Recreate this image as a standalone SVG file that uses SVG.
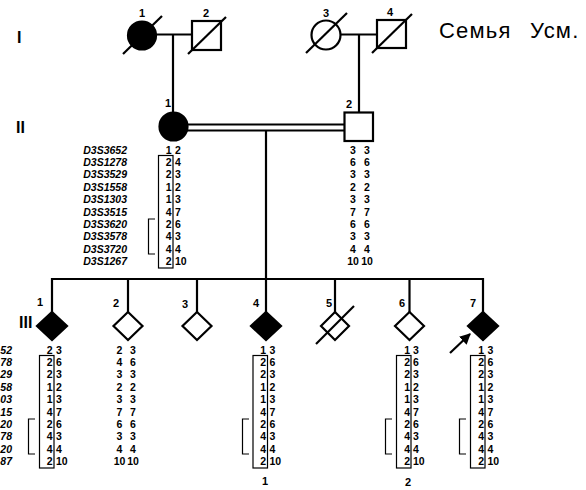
<svg xmlns="http://www.w3.org/2000/svg" width="586" height="490" viewBox="0 0 586 490">
<defs>
<style>
.ln{stroke:#000;stroke-width:2.2;fill:none}
.sym{stroke:#000;stroke-width:2.2;fill:#fff}
.aff{stroke:#000;stroke-width:2.2;fill:#000}
.box{stroke:#000;stroke-width:1.2;fill:none}
.gen{font-family:"Liberation Sans",Arial,sans-serif;font-weight:bold;font-size:16px}
.id{font-family:"Liberation Sans",Arial,sans-serif;font-weight:bold;font-size:11px}
.al{font-family:"Liberation Sans",Arial,sans-serif;font-weight:bold;font-size:10.5px}
.mk{font-family:"Liberation Sans",Arial,sans-serif;font-weight:bold;font-style:italic;font-size:10.5px}
.title{font-family:"Liberation Sans",Arial,sans-serif;font-size:22px;letter-spacing:1.2px;word-spacing:11px}
</style>
<marker id="ah" viewBox="0 0 10 10" refX="9" refY="5" markerWidth="5" markerHeight="5" orient="auto" markerUnits="strokeWidth">
<path d="M0,0 L10,5 L0,10 Z" fill="#000"/>
</marker>
</defs>
<rect width="586" height="490" fill="#fff"/>

<g id="labels">
<text class="gen" x="17" y="43">I</text>
<text class="gen" x="16" y="133">II</text>
<text class="gen" x="19" y="328">III</text>
<text class="title" x="439" y="38">Семья Усм.</text>
</g>

<g id="connectors">
<line class="ln" x1="156" y1="34.5" x2="192" y2="34.5"/>
<line class="ln" x1="173" y1="34.5" x2="173" y2="113"/>
<line class="ln" x1="341" y1="34.5" x2="377" y2="34.5"/>
<line class="ln" x1="359" y1="34.5" x2="359" y2="112"/>
<line class="ln" x1="187" y1="124.5" x2="344" y2="124.5"/>
<line class="ln" x1="187" y1="130.5" x2="344" y2="130.5"/>
<line class="ln" x1="266" y1="130.5" x2="266" y2="279"/>
<polyline class="ln" points="52,312 52,279 483,279 483,312"/>
<line class="ln" x1="128" y1="279" x2="128" y2="312"/>
<line class="ln" x1="197" y1="279" x2="197" y2="312"/>
<line class="ln" x1="266" y1="279" x2="266" y2="312"/>
<line class="ln" x1="335" y1="279" x2="335" y2="312"/>
<line class="ln" x1="409.5" y1="279" x2="409.5" y2="312"/>
<line class="ln" x1="450" y1="353" x2="470" y2="334" marker-end="url(#ah)"/>
</g>

<g id="I-1">
<circle class="aff" cx="142" cy="35.5" r="14"/>
<line class="ln" x1="123" y1="54" x2="162" y2="16"/>
<text class="id" x="142" y="17" text-anchor="middle">1</text>
</g>
<g id="I-2">
<rect class="sym" x="192" y="21" width="29" height="29"/>
<line class="ln" x1="188" y1="54" x2="226" y2="17"/>
<text class="id" x="206" y="17" text-anchor="middle">2</text>
</g>
<g id="I-3">
<circle class="sym" cx="326" cy="35" r="14.5"/>
<line class="ln" x1="306" y1="53" x2="347" y2="13"/>
<text class="id" x="326" y="17" text-anchor="middle">3</text>
</g>
<g id="I-4">
<rect class="sym" x="377" y="20" width="29" height="28"/>
<line class="ln" x1="372" y1="53" x2="412" y2="14"/>
<text class="id" x="390" y="16" text-anchor="middle">4</text>
</g>

<g id="II-1">
<circle class="aff" cx="173.5" cy="126.5" r="14"/>
<text class="id" x="168" y="107" text-anchor="middle">1</text>
<text class="mk" text-anchor="end"><tspan x="127" y="153.6">D3S3652</tspan><tspan x="127" dy="12.4">D3S1278</tspan><tspan x="127" dy="12.4">D3S3529</tspan><tspan x="127" dy="12.4">D3S1558</tspan><tspan x="127" dy="12.4">D3S1303</tspan><tspan x="127" dy="12.4">D3S3515</tspan><tspan x="127" dy="12.4">D3S3620</tspan><tspan x="127" dy="12.4">D3S3578</tspan><tspan x="127" dy="12.4">D3S3720</tspan><tspan x="127" dy="12.4">D3S1267</tspan></text>
<text class="al" text-anchor="end"><tspan x="171.5" y="153.6">1</tspan><tspan x="171.5" dy="12.4">2</tspan><tspan x="171.5" dy="12.4">2</tspan><tspan x="171.5" dy="12.4">1</tspan><tspan x="171.5" dy="12.4">1</tspan><tspan x="171.5" dy="12.4">4</tspan><tspan x="171.5" dy="12.4">2</tspan><tspan x="171.5" dy="12.4">4</tspan><tspan x="171.5" dy="12.4">4</tspan><tspan x="171.5" dy="12.4">2</tspan></text>
<text class="al"><tspan x="175" y="153.6">2</tspan><tspan x="175" dy="12.4">4</tspan><tspan x="175" dy="12.4">3</tspan><tspan x="175" dy="12.4">2</tspan><tspan x="175" dy="12.4">3</tspan><tspan x="175" dy="12.4">7</tspan><tspan x="175" dy="12.4">6</tspan><tspan x="175" dy="12.4">3</tspan><tspan x="175" dy="12.4">4</tspan><tspan x="175" dy="12.4">10</tspan></text>
<rect class="box" x="158.5" y="155.5" width="14.5" height="112.5"/>
<polyline class="box" points="155,219 148.5,219 148.5,254 155,254"/>
</g>

<g id="II-2">
<rect class="sym" x="344.5" y="112.5" width="28.5" height="28.5"/>
<text class="id" x="349" y="108" text-anchor="middle">2</text>
<text class="al" text-anchor="middle"><tspan x="353" y="153.6">3</tspan><tspan x="353" dy="12.4">6</tspan><tspan x="353" dy="12.4">3</tspan><tspan x="353" dy="12.4">2</tspan><tspan x="353" dy="12.4">3</tspan><tspan x="353" dy="12.4">7</tspan><tspan x="353" dy="12.4">6</tspan><tspan x="353" dy="12.4">3</tspan><tspan x="353" dy="12.4">4</tspan><tspan x="353" dy="12.4">10</tspan></text>
<text class="al" text-anchor="middle"><tspan x="367" y="153.6">3</tspan><tspan x="367" dy="12.4">6</tspan><tspan x="367" dy="12.4">3</tspan><tspan x="367" dy="12.4">2</tspan><tspan x="367" dy="12.4">3</tspan><tspan x="367" dy="12.4">7</tspan><tspan x="367" dy="12.4">6</tspan><tspan x="367" dy="12.4">3</tspan><tspan x="367" dy="12.4">4</tspan><tspan x="367" dy="12.4">10</tspan></text>
</g>

<g id="III-1">
<polygon class="aff" points="52,312 67,326 52,340 37,326"/>
<text class="id" x="40" y="306" text-anchor="middle">1</text>
<text class="mk" text-anchor="end"><tspan x="12" y="353.6">52</tspan><tspan x="12" dy="12.4">78</tspan><tspan x="12" dy="12.4">29</tspan><tspan x="12" dy="12.4">58</tspan><tspan x="12" dy="12.4">03</tspan><tspan x="12" dy="12.4">15</tspan><tspan x="12" dy="12.4">20</tspan><tspan x="12" dy="12.4">78</tspan><tspan x="12" dy="12.4">20</tspan><tspan x="12" dy="12.4">87</tspan></text>
<text class="al" text-anchor="end"><tspan x="52.5" y="353.6">2</tspan><tspan x="52.5" dy="12.4">2</tspan><tspan x="52.5" dy="12.4">2</tspan><tspan x="52.5" dy="12.4">1</tspan><tspan x="52.5" dy="12.4">1</tspan><tspan x="52.5" dy="12.4">4</tspan><tspan x="52.5" dy="12.4">2</tspan><tspan x="52.5" dy="12.4">4</tspan><tspan x="52.5" dy="12.4">4</tspan><tspan x="52.5" dy="12.4">2</tspan></text>
<text class="al"><tspan x="56" y="353.6">3</tspan><tspan x="56" dy="12.4">6</tspan><tspan x="56" dy="12.4">3</tspan><tspan x="56" dy="12.4">2</tspan><tspan x="56" dy="12.4">3</tspan><tspan x="56" dy="12.4">7</tspan><tspan x="56" dy="12.4">6</tspan><tspan x="56" dy="12.4">3</tspan><tspan x="56" dy="12.4">4</tspan><tspan x="56" dy="12.4">10</tspan></text>
<rect class="box" x="39.5" y="355.5" width="14.5" height="112.5"/>
<polyline class="box" points="35,419 28.5,419 28.5,454 35,454"/>
</g>

<g id="III-2">
<polygon class="sym" points="128,312 142.5,326 128,340 113.5,326"/>
<text class="id" x="116" y="307" text-anchor="middle">2</text>
<text class="al" text-anchor="middle"><tspan x="119.5" y="353.6">2</tspan><tspan x="119.5" dy="12.4">4</tspan><tspan x="119.5" dy="12.4">3</tspan><tspan x="119.5" dy="12.4">2</tspan><tspan x="119.5" dy="12.4">3</tspan><tspan x="119.5" dy="12.4">7</tspan><tspan x="119.5" dy="12.4">6</tspan><tspan x="119.5" dy="12.4">3</tspan><tspan x="119.5" dy="12.4">4</tspan><tspan x="119.5" dy="12.4">10</tspan></text>
<text class="al" text-anchor="middle"><tspan x="133" y="353.6">3</tspan><tspan x="133" dy="12.4">6</tspan><tspan x="133" dy="12.4">3</tspan><tspan x="133" dy="12.4">2</tspan><tspan x="133" dy="12.4">3</tspan><tspan x="133" dy="12.4">7</tspan><tspan x="133" dy="12.4">6</tspan><tspan x="133" dy="12.4">3</tspan><tspan x="133" dy="12.4">4</tspan><tspan x="133" dy="12.4">10</tspan></text>
</g>

<g id="III-3">
<polygon class="sym" points="197,312 211.5,326 197,340 182.5,326"/>
<text class="id" x="185" y="308" text-anchor="middle">3</text>
</g>

<g id="III-4">
<polygon class="aff" points="266,312 281,326 266,340 251,326"/>
<text class="id" x="256" y="307" text-anchor="middle">4</text>
<text class="al" text-anchor="end"><tspan x="266" y="353.6">1</tspan><tspan x="266" dy="12.4">2</tspan><tspan x="266" dy="12.4">2</tspan><tspan x="266" dy="12.4">1</tspan><tspan x="266" dy="12.4">1</tspan><tspan x="266" dy="12.4">4</tspan><tspan x="266" dy="12.4">2</tspan><tspan x="266" dy="12.4">4</tspan><tspan x="266" dy="12.4">4</tspan><tspan x="266" dy="12.4">2</tspan></text>
<text class="al"><tspan x="269.5" y="353.6">3</tspan><tspan x="269.5" dy="12.4">6</tspan><tspan x="269.5" dy="12.4">3</tspan><tspan x="269.5" dy="12.4">2</tspan><tspan x="269.5" dy="12.4">3</tspan><tspan x="269.5" dy="12.4">7</tspan><tspan x="269.5" dy="12.4">6</tspan><tspan x="269.5" dy="12.4">3</tspan><tspan x="269.5" dy="12.4">4</tspan><tspan x="269.5" dy="12.4">10</tspan></text>
<rect class="box" x="253" y="355.5" width="14.5" height="112.5"/>
<polyline class="box" points="249,419 242.5,419 242.5,454 249,454"/>
<text class="id" x="265" y="485" text-anchor="middle">1</text>
</g>

<g id="III-5">
<polygon class="sym" points="335,312 349,326 335,340 321,326"/>
<line class="ln" x1="316" y1="344" x2="354" y2="306"/>
<text class="id" x="329" y="307" text-anchor="middle">5</text>
</g>

<g id="III-6">
<polygon class="sym" points="409.5,312 424,326 409.5,340 395,326"/>
<text class="id" x="402" y="307" text-anchor="middle">6</text>
<text class="al" text-anchor="end"><tspan x="410" y="353.6">1</tspan><tspan x="410" dy="12.4">2</tspan><tspan x="410" dy="12.4">2</tspan><tspan x="410" dy="12.4">1</tspan><tspan x="410" dy="12.4">1</tspan><tspan x="410" dy="12.4">4</tspan><tspan x="410" dy="12.4">2</tspan><tspan x="410" dy="12.4">4</tspan><tspan x="410" dy="12.4">4</tspan><tspan x="410" dy="12.4">2</tspan></text>
<text class="al"><tspan x="413" y="353.6">3</tspan><tspan x="413" dy="12.4">6</tspan><tspan x="413" dy="12.4">3</tspan><tspan x="413" dy="12.4">2</tspan><tspan x="413" dy="12.4">3</tspan><tspan x="413" dy="12.4">7</tspan><tspan x="413" dy="12.4">6</tspan><tspan x="413" dy="12.4">3</tspan><tspan x="413" dy="12.4">4</tspan><tspan x="413" dy="12.4">10</tspan></text>
<rect class="box" x="396.5" y="355.5" width="14.5" height="112.5"/>
<polyline class="box" points="392,419 385.5,419 385.5,454 392,454"/>
<text class="id" x="408" y="486" text-anchor="middle">2</text>
</g>

<g id="III-7">
<polygon class="aff" points="483,312 498,326 483,340 468,326"/>
<text class="id" x="473" y="307" text-anchor="middle">7</text>
<text class="al" text-anchor="end"><tspan x="484" y="353.6">1</tspan><tspan x="484" dy="12.4">2</tspan><tspan x="484" dy="12.4">2</tspan><tspan x="484" dy="12.4">1</tspan><tspan x="484" dy="12.4">1</tspan><tspan x="484" dy="12.4">4</tspan><tspan x="484" dy="12.4">2</tspan><tspan x="484" dy="12.4">4</tspan><tspan x="484" dy="12.4">4</tspan><tspan x="484" dy="12.4">2</tspan></text>
<text class="al"><tspan x="487.5" y="353.6">3</tspan><tspan x="487.5" dy="12.4">6</tspan><tspan x="487.5" dy="12.4">3</tspan><tspan x="487.5" dy="12.4">2</tspan><tspan x="487.5" dy="12.4">3</tspan><tspan x="487.5" dy="12.4">7</tspan><tspan x="487.5" dy="12.4">6</tspan><tspan x="487.5" dy="12.4">3</tspan><tspan x="487.5" dy="12.4">4</tspan><tspan x="487.5" dy="12.4">10</tspan></text>
<rect class="box" x="470.5" y="355.5" width="14.5" height="112.5"/>
<polyline class="box" points="466,419 459.5,419 459.5,454 466,454"/>
</g>
</svg>
